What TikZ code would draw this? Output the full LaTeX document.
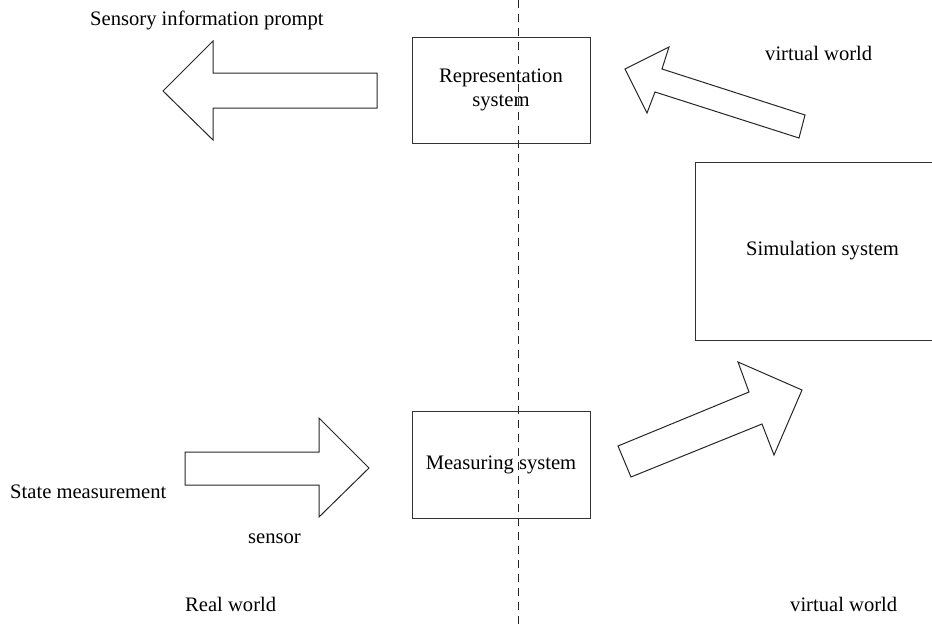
\documentclass[tikz,border=0pt]{standalone}
\usepackage{fontspec}
\setmainfont{Liberation Serif}
\tikzset{
  sysbox/.style={draw=black!80,line width=1pt,align=center,inner sep=0pt,
    font=\fontsize{20.6}{24}\selectfont},
  lbl/.style={inner sep=0pt,font=\fontsize{20.6}{24}\selectfont},
  blockarrow/.style={draw=black!85,line width=1pt,line join=miter}
}
\begin{document}
\begin{tikzpicture}[x=1pt,y=-1pt]
\useasboundingbox (0,0) rectangle (932,629);
%	\draw[step=50,red,very thin] (0,0) grid (932,629);

	% boundary between real and virtual world
	\coordinate (bordertop) at (518,0);
	\coordinate (borderbot) at (518,629);
	\draw[black!85,line width=1pt,dash pattern=on 8pt off 6pt](bordertop)--(borderbot);

	\node[sysbox,minimum width=178pt,minimum height=106pt] (repr) at (501,90) {Representation\\system};
	\node[sysbox,minimum width=178pt,minimum height=107pt] (meas) at (501,464.5) {Measuring system};
	\node[sysbox,minimum width=255pt,minimum height=178pt] (simu) at (822.5,251) {Simulation system};

	% block arrows
	\draw[blockarrow](377,73)--(213,73)--(213,41)--(163,91)--(213,140)--(213,108)--(377,108)--cycle;
	\draw[blockarrow](185,452)--(319,452)--(319,418)--(369,468)--(319,517)--(319,485)--(185,485)--cycle;
	\draw[blockarrow](618,446)--(749,392)--(738,362)--(802,390)--(774,455)--(762,424)--(631,477)--cycle;
	\draw[blockarrow](805,115)--(662,69)--(669,47)--(625,69)--(647,113)--(655,92)--(799,138)--cycle;

	\node[lbl,anchor=base west] (sensory) at (90,25) {Sensory information prompt};
	\node[lbl,anchor=base west] (virttop) at (765,60) {virtual world};
	\node[lbl,anchor=base west] (state) at (10,498) {State measurement};
	\node[lbl,anchor=base west] (sensor) at (248,543) {sensor};
	\node[lbl,anchor=base west] (realw) at (185,611) {Real world};
	\node[lbl,anchor=base west] (virtbot) at (790,611) {virtual world};
\end{tikzpicture}
\end{document}
